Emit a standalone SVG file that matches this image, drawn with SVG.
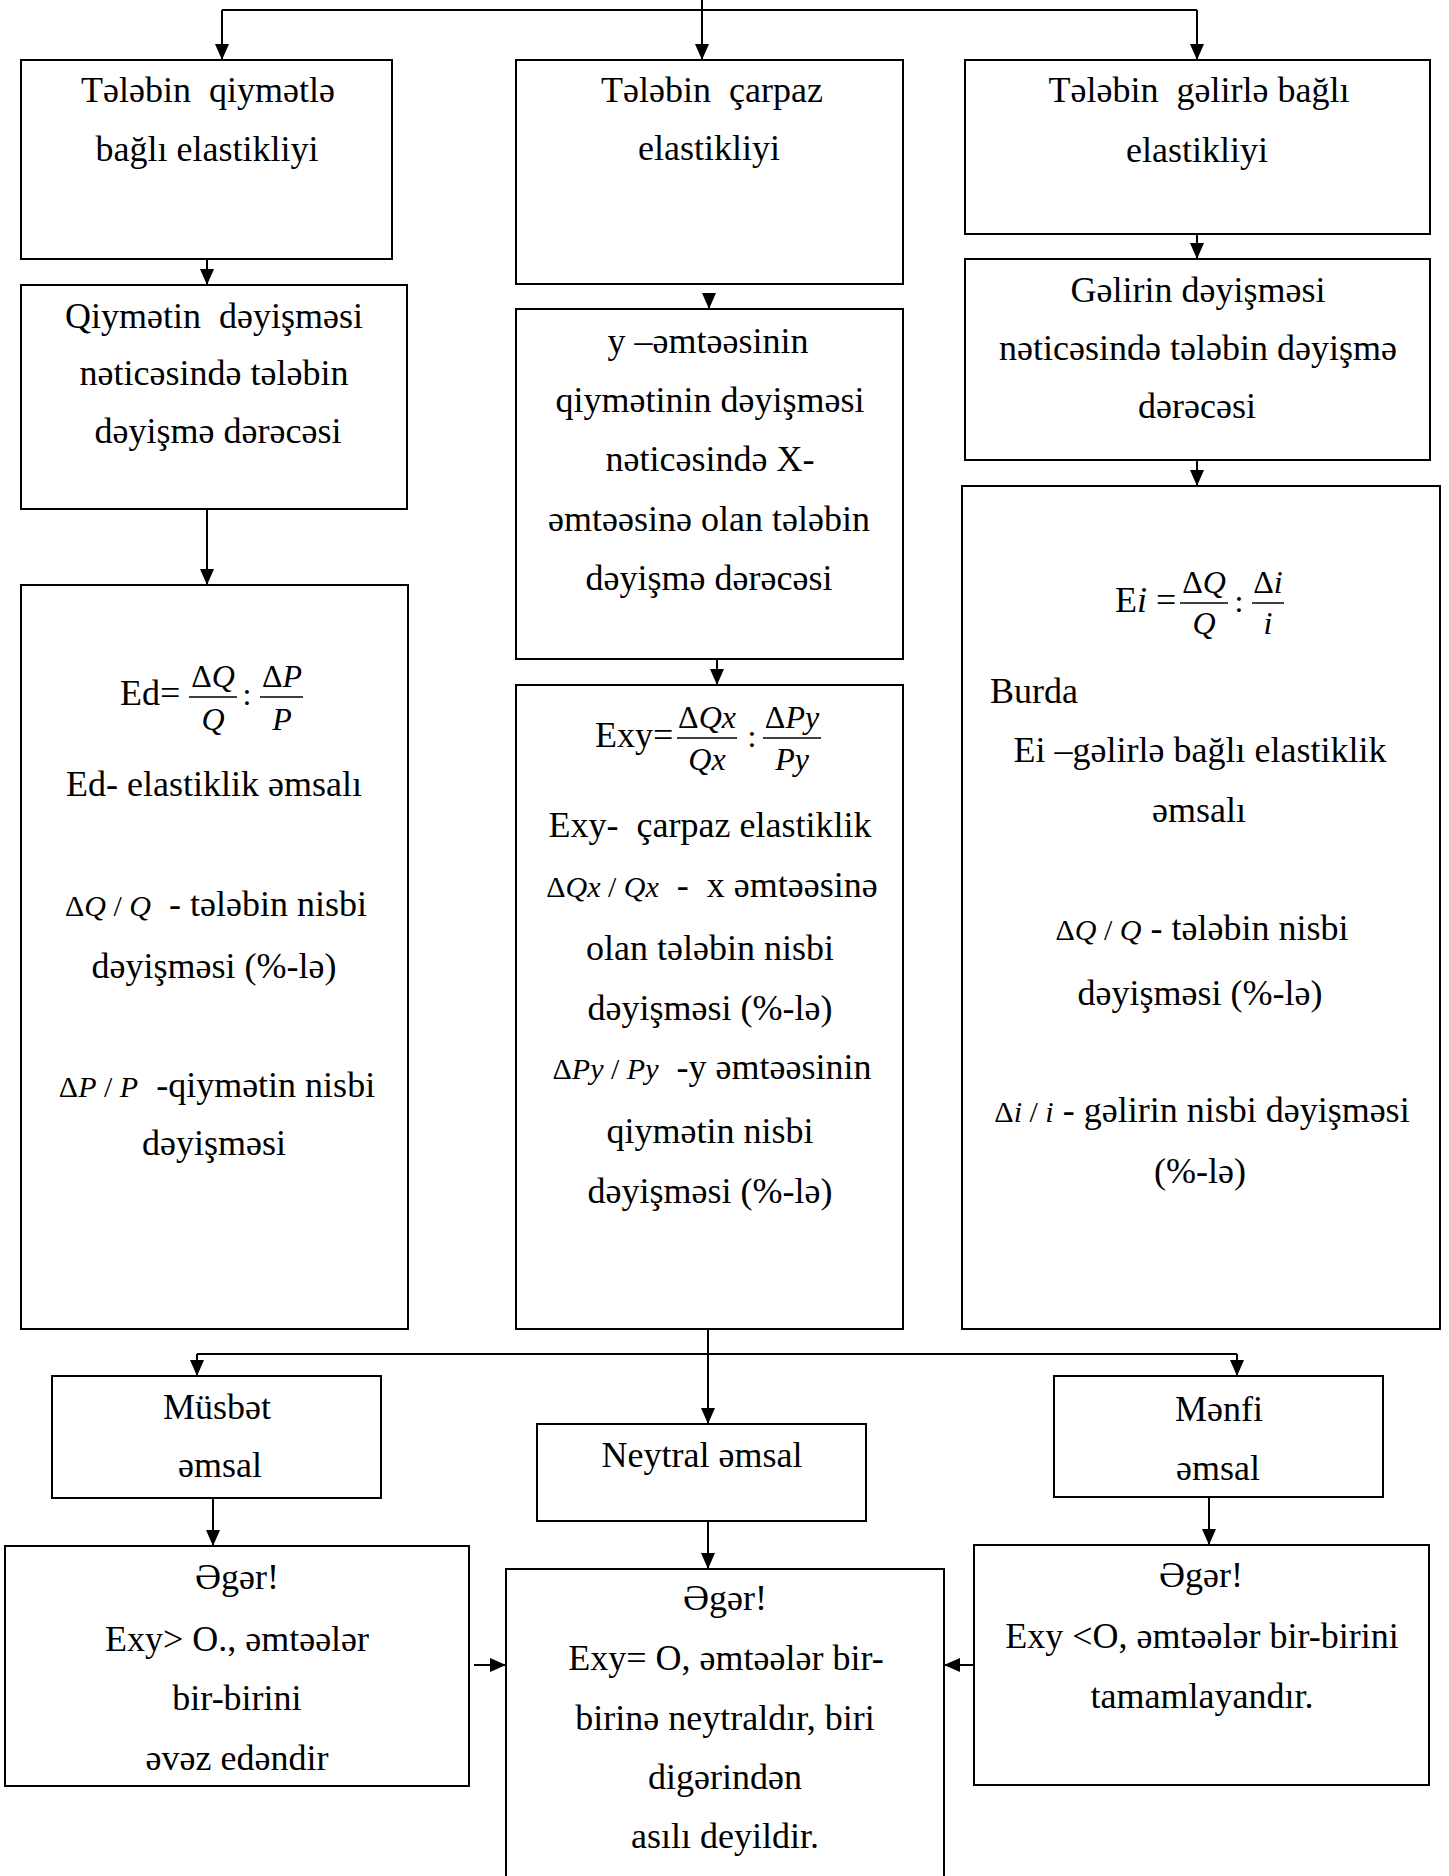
<svg xmlns="http://www.w3.org/2000/svg" width="1449" height="1876" viewBox="0 0 1449 1876">
<defs>
<style>
.box{fill:#fff;stroke:#000;stroke-width:2}
.ln{fill:none;stroke:#000;stroke-width:2}
.t{font-family:'Liberation Serif','Times New Roman',serif;font-size:36px;text-anchor:middle;fill:#000;white-space:pre}
.s{text-anchor:start}
.f{font-size:32px}
.m{font-size:30px}
.i{font-style:italic}
.bar{stroke:#000;stroke-width:1.5}
</style>
<marker id="ah" markerUnits="userSpaceOnUse" markerWidth="16" markerHeight="16" refX="16" refY="7" orient="auto">
<path d="M0,0 L16,7 L0,14 z" fill="#000"/>
</marker>
</defs>
<rect width="1449" height="1876" fill="#fff"/>

<g id="connectors">
<path class="ln" d="M702,0 V60" marker-end="url(#ah)"/>
<path class="ln" d="M222,10 H1197"/>
<path class="ln" d="M222,10 V60" marker-end="url(#ah)"/>
<path class="ln" d="M1197,10 V60" marker-end="url(#ah)"/>
<path class="ln" d="M207,259 V285" marker-end="url(#ah)"/>
<path class="ln" d="M207,509 V585" marker-end="url(#ah)"/>
<path class="ln" d="M709,293 V309" marker-end="url(#ah)"/>
<path class="ln" d="M717,659 V685" marker-end="url(#ah)"/>
<path class="ln" d="M1197,234 V259" marker-end="url(#ah)"/>
<path class="ln" d="M1197,460 V486" marker-end="url(#ah)"/>
<path class="ln" d="M708,1329 V1424" marker-end="url(#ah)"/>
<path class="ln" d="M197,1354 H1237"/>
<path class="ln" d="M197,1354 V1376" marker-end="url(#ah)"/>
<path class="ln" d="M1237,1354 V1376" marker-end="url(#ah)"/>
<path class="ln" d="M213,1498 V1546" marker-end="url(#ah)"/>
<path class="ln" d="M1209,1497 V1545" marker-end="url(#ah)"/>
<path class="ln" d="M708,1521 V1569" marker-end="url(#ah)"/>
<path class="ln" d="M474,1665 H506" marker-end="url(#ah)"/>
<path class="ln" d="M974,1665 H944" marker-end="url(#ah)"/>
</g>

<g id="n-a1">
<rect class="box" x="21" y="60" width="371" height="199"/>
<text class="t" x="208" y="102">Tələbin  qiymətlə</text>
<text class="t" x="207" y="161">bağlı elastikliyi</text>
</g>
<g id="n-a2">
<rect class="box" x="21" y="285" width="386" height="224"/>
<text class="t" x="214" y="328">Qiymətin  dəyişməsi</text>
<text class="t" x="214" y="385">nəticəsində tələbin</text>
<text class="t" x="218" y="443">dəyişmə dərəcəsi</text>
</g>
<g id="n-a3">
<rect class="box" x="21" y="585" width="387" height="744"/>
<text class="t s" x="120" y="705">Ed=</text>
<line class="bar" x1="189" y1="697" x2="237" y2="697"/>
<text class="t f" x="213" y="687">Δ<tspan class="i">Q</tspan></text>
<text class="t f i" x="213" y="730">Q</text>
<text class="t f" x="247" y="705">:</text>
<line class="bar" x1="260" y1="697" x2="303" y2="697"/>
<text class="t f" x="282" y="687">Δ<tspan class="i">P</tspan></text>
<text class="t f i" x="282" y="730">P</text>
<text class="t" x="214" y="796">Ed- elastiklik əmsalı</text>
<text class="t" x="216" y="916"><tspan class="m">Δ<tspan class="i">Q</tspan> / <tspan class="i">Q</tspan></tspan>  - tələbin nisbi</text>
<text class="t" x="214" y="978">dəyişməsi (%-lə)</text>
<text class="t" x="217" y="1097"><tspan class="m">Δ<tspan class="i">P</tspan> / <tspan class="i">P</tspan></tspan>  -qiymətin nisbi</text>
<text class="t" x="214" y="1155">dəyişməsi</text>
</g>

<g id="n-b1">
<rect class="box" x="516" y="60" width="387" height="224"/>
<text class="t" x="712" y="102">Tələbin  çarpaz</text>
<text class="t" x="709" y="160">elastikliyi</text>
</g>
<g id="n-b2">
<rect class="box" x="516" y="309" width="387" height="350"/>
<text class="t" x="708" y="353">y –əmtəəsinin</text>
<text class="t" x="710" y="412">qiymətinin dəyişməsi</text>
<text class="t" x="710" y="471">nəticəsində X-</text>
<text class="t" x="709" y="531">əmtəəsinə olan tələbin</text>
<text class="t" x="709" y="590">dəyişmə dərəcəsi</text>
</g>
<g id="n-b3">
<rect class="box" x="516" y="685" width="387" height="644"/>
<text class="t s" x="595" y="747">Exy=</text>
<line class="bar" x1="677" y1="738" x2="737" y2="738"/>
<text class="t f" x="707" y="728">Δ<tspan class="i">Qx</tspan></text>
<text class="t f i" x="707" y="770">Qx</text>
<text class="t f" x="752" y="747">:</text>
<line class="bar" x1="763" y1="738" x2="821" y2="738"/>
<text class="t f" x="792" y="728">Δ<tspan class="i">Py</tspan></text>
<text class="t f i" x="792" y="770">Py</text>
<text class="t" x="710" y="837">Exy-  çarpaz elastiklik</text>
<text class="t" x="712" y="897"><tspan class="m">Δ<tspan class="i">Qx</tspan> / <tspan class="i">Qx</tspan></tspan>  -  x əmtəəsinə</text>
<text class="t" x="710" y="960">olan tələbin nisbi</text>
<text class="t" x="710" y="1020">dəyişməsi (%-lə)</text>
<text class="t" x="712" y="1079"><tspan class="m">Δ<tspan class="i">Py</tspan> / <tspan class="i">Py</tspan></tspan>  -y əmtəəsinin</text>
<text class="t" x="710" y="1143">qiymətin nisbi</text>
<text class="t" x="710" y="1203">dəyişməsi (%-lə)</text>
</g>

<g id="n-c1">
<rect class="box" x="965" y="60" width="465" height="174"/>
<text class="t" x="1199" y="102">Tələbin  gəlirlə bağlı</text>
<text class="t" x="1197" y="162">elastikliyi</text>
</g>
<g id="n-c2">
<rect class="box" x="965" y="259" width="465" height="201"/>
<text class="t" x="1198" y="302">Gəlirin dəyişməsi</text>
<text class="t" x="1198" y="360">nəticəsində tələbin dəyişmə</text>
<text class="t" x="1197" y="418">dərəcəsi</text>
</g>
<g id="n-c3">
<rect class="box" x="962" y="486" width="478" height="843"/>
<text class="t s" x="1115" y="612">E<tspan class="i">i</tspan> =</text>
<line class="bar" x1="1180" y1="603" x2="1228" y2="603"/>
<text class="t f" x="1204" y="593">Δ<tspan class="i">Q</tspan></text>
<text class="t f i" x="1204" y="634">Q</text>
<text class="t f" x="1239" y="612">:</text>
<line class="bar" x1="1252" y1="603" x2="1284" y2="603"/>
<text class="t f" x="1268" y="593">Δ<tspan class="i">i</tspan></text>
<text class="t f i" x="1268" y="634">i</text>
<text class="t s" x="990" y="703">Burda</text>
<text class="t" x="1200" y="762">Ei –gəlirlə bağlı elastiklik</text>
<text class="t" x="1199" y="822">əmsalı</text>
<text class="t" x="1202" y="940"><tspan class="m">Δ<tspan class="i">Q</tspan> / <tspan class="i">Q</tspan></tspan> - tələbin nisbi</text>
<text class="t" x="1200" y="1005">dəyişməsi (%-lə)</text>
<text class="t" x="1202" y="1122"><tspan class="m">Δ<tspan class="i">i</tspan> / <tspan class="i">i</tspan></tspan> - gəlirin nisbi dəyişməsi</text>
<text class="t" x="1200" y="1183">(%-lə)</text>
</g>

<g id="n-musbet">
<rect class="box" x="52" y="1376" width="329" height="122"/>
<text class="t" x="217" y="1419">Müsbət</text>
<text class="t" x="220" y="1477">əmsal</text>
</g>
<g id="n-neytral">
<rect class="box" x="537" y="1424" width="329" height="97"/>
<text class="t" x="702" y="1467">Neytral əmsal</text>
</g>
<g id="n-menfi">
<rect class="box" x="1054" y="1376" width="329" height="121"/>
<text class="t" x="1219" y="1421">Mənfi</text>
<text class="t" x="1218" y="1480">əmsal</text>
</g>
<g id="n-eger-left">
<rect class="box" x="5" y="1546" width="464" height="240"/>
<text class="t" x="237" y="1589">Əgər!</text>
<text class="t" x="237" y="1651">Exy&gt; O., əmtəələr</text>
<text class="t" x="237" y="1710">bir-birini</text>
<text class="t" x="237" y="1770">əvəz edəndir</text>
</g>
<g id="n-eger-center">
<rect class="box" x="506" y="1569" width="438" height="320"/>
<text class="t" x="725" y="1610">Əgər!</text>
<text class="t" x="726" y="1670">Exy= O, əmtəələr bir-</text>
<text class="t" x="725" y="1730">birinə neytraldır, biri</text>
<text class="t" x="725" y="1789">digərindən</text>
<text class="t" x="725" y="1848">asılı deyildir.</text>
</g>
<g id="n-eger-right">
<rect class="box" x="974" y="1545" width="455" height="240"/>
<text class="t" x="1201" y="1587">Əgər!</text>
<text class="t" x="1202" y="1648">Exy &lt;O, əmtəələr bir-birini</text>
<text class="t" x="1202" y="1708">tamamlayandır.</text>
</g>
</svg>
